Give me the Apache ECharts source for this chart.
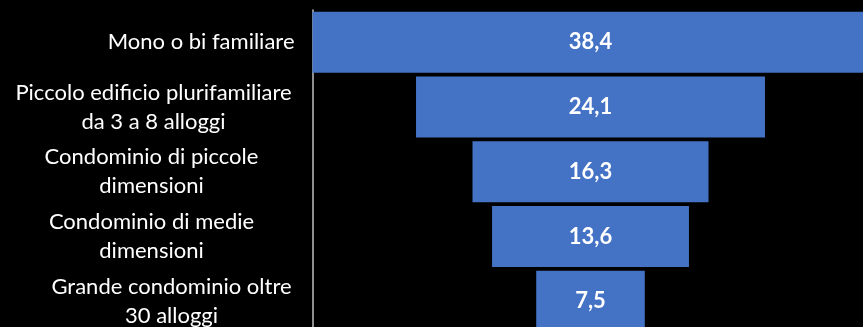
<!DOCTYPE html>
<html>
<head>
<meta charset="utf-8">
<script src="https://cdn.jsdelivr.net/npm/echarts@6/dist/echarts.min.js"></script>
<style>
  html, body { margin: 0; padding: 0; background: #000; }
  #chart { width: 863px; height: 327px; }
</style>
</head>
<body>
<div id="chart"></div>
<script>
// Housing types, top to bottom
const categories = [
  'Mono o bi familiare',
  'Piccolo edificio plurifamiliare\nda 3 a 8 alloggi',
  'Condominio di piccole\ndimensioni',
  'Condominio di medie\ndimensioni',
  'Grande condominio oltre\n30 alloggi'
];
// Share (%) per housing type
const values = [38.4, 24.1, 16.3, 13.6, 7.5];

// Width of the box each wrapped label's lines are centred in (0 = natural width)
const labelBoxWidths = [0, 282, 286, 286, 246];

const FONT = 'Lato';
const maxValue = Math.max(...values);
// invisible spacer that centres every bar on the widest one
const spacer = values.map(v => (maxValue - v) / 2);

const rich = {};
labelBoxWidths.forEach((w, i) => {
  rich['b' + i] = Object.assign(
    { fontFamily: FONT, fontSize: 22, lineHeight: 29, color: '#ffffff', align: 'center' },
    w ? { width: w } : {}
  );
});

const chart = echarts.init(document.getElementById('chart'), null, { renderer: 'canvas' });
chart.setOption({
  backgroundColor: '#000000',
  animation: false,
  grid: {
    left: 312.5, top: 10, width: 556, height: 323.5,
    containLabel: false,
    outerBoundsMode: 'none'
  },
  xAxis: {
    type: 'value',
    min: 0,
    max: maxValue,
    show: false
  },
  yAxis: {
    type: 'category',
    data: categories,
    inverse: true,
    axisLine: { show: true, lineStyle: { color: '#bfbfbf', width: 1.5 } },
    axisTick: { show: false },
    splitLine: { show: false },
    axisLabel: {
      margin: 18,
      align: 'right',
      formatter: (v, i) => '{b' + i + '|' + v + '}',
      rich: rich
    }
  },
  series: [
    {
      type: 'bar',
      stack: 'funnel',
      data: spacer,
      itemStyle: { color: 'transparent' },
      barCategoryGap: '5.7%',
      silent: true
    },
    {
      type: 'bar',
      stack: 'funnel',
      data: values,
      barCategoryGap: '5.7%',
      itemStyle: { color: '#4472c4' },
      label: {
        show: true,
        position: 'inside',
        color: '#ffffff',
        fontFamily: FONT,
        fontWeight: 'bold',
        fontSize: 22,
        formatter: p => String(p.value).replace('.', ',')
      }
    }
  ]
});
</script>
</body>
</html>
